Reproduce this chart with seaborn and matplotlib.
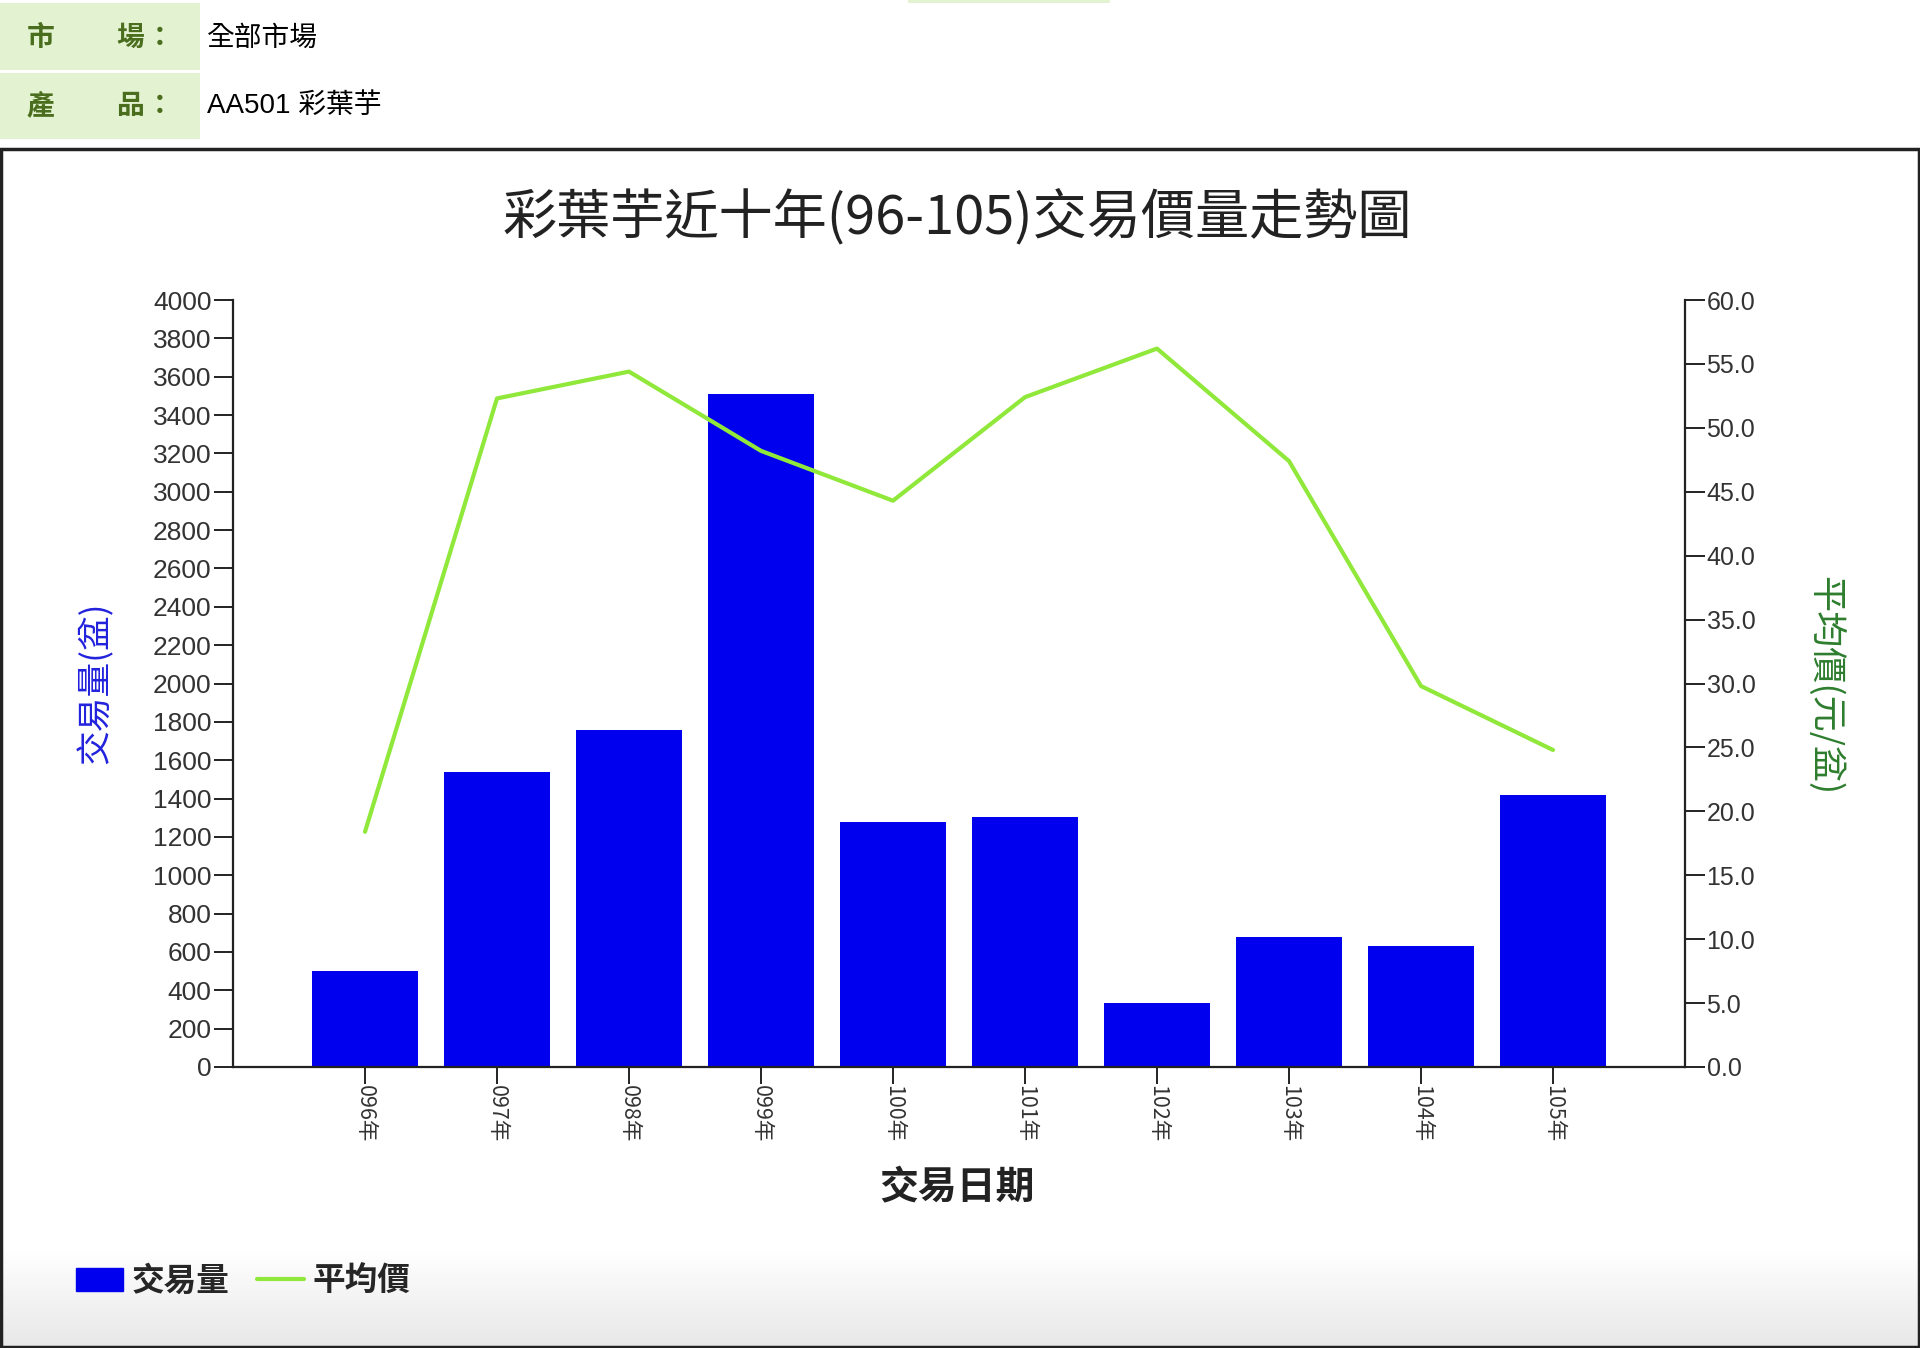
import numpy as np
import pandas as pd
import matplotlib
matplotlib.use("Agg")
import matplotlib.pyplot as plt
import seaborn as sns
from matplotlib.patches import Rectangle
from matplotlib.lines import Line2D

# ---------------- data ----------------
years = ["096年", "097年", "098年", "099年", "100年", "101年", "102年", "103年", "104年", "105年"]
volume = [500, 1540, 1758, 3510, 1280, 1302, 332, 676, 633, 1416]
price = [18.4, 52.3, 54.4, 48.2, 44.3, 52.4, 56.2, 47.4, 29.8, 24.8]
left_ticks = list(range(0, 4001, 200))
right_ticks = [0, 5, 10, 15, 20, 25, 30, 35, 40, 45, 50, 55, 60]

title = "彩葉芋近十年(96-105)交易價量走勢圖"
market_label = "全部市場"
product_label = "AA501 彩葉芋"

sns.set_theme(style="white")
plt.rcParams['font.family'] = ['Noto Sans CJK TC', 'DejaVu Sans']

W, H = 1920, 1348
fig = plt.figure(figsize=(W / 100, H / 100), dpi=100)
fig.patch.set_facecolor("white")

def fx(px):
    return px / W

def fy(py):
    return (H - py) / H

# ---------------- header ----------------
hdr = fig.add_axes([0, 0, 1, 1], zorder=-2)
hdr.set_xlim(0, W)
hdr.set_ylim(H, 0)
hdr.axis("off")
cell_green = "#e3f3d1"
hdr.add_patch(Rectangle((0, 3), 200, 67, color=cell_green, lw=0))
hdr.add_patch(Rectangle((0, 73), 200, 66, color=cell_green, lw=0))
hdr.add_patch(Rectangle((908, 0), 202, 3, color=cell_green, lw=0))

# frame area with subtle bottom gradient
n = 300
grad = np.ones((n, 1))
for i in range(n):
    t = i / (n - 1)
    if t > 0.92:
        grad[i, 0] = 1.0 - 0.09 * (t - 0.92) / 0.08
grad_rgb = np.repeat(grad[:, :, None], 3, axis=2)
hdr.imshow(grad_rgb, extent=(0, W, H, 148), aspect="auto", zorder=0, interpolation="bilinear")
hdr.set_xlim(0, W)
hdr.set_ylim(H, 0)
hdr.add_patch(Rectangle((1, 149), W - 2, H - 150, fill=False, ec="#222222", lw=2.5, zorder=2))

lab_color = "#4a6e1e"
fs_hdr = 20
fig.text(fx(27), fy(38), "市", fontsize=fs_hdr, color=lab_color, fontweight="bold", va="center", ha="left")
fig.text(fx(116), fy(38), "場", fontsize=fs_hdr, color=lab_color, fontweight="bold", va="center", ha="left")
fig.text(fx(146), fy(38), "：", fontsize=fs_hdr, color=lab_color, fontweight="bold", va="center", ha="left")
fig.text(fx(27), fy(106), "產", fontsize=fs_hdr, color=lab_color, fontweight="bold", va="center", ha="left")
fig.text(fx(116), fy(106), "品", fontsize=fs_hdr, color=lab_color, fontweight="bold", va="center", ha="left")
fig.text(fx(146), fy(106), "：", fontsize=fs_hdr, color=lab_color, fontweight="bold", va="center", ha="left")
fig.text(fx(207), fy(38), market_label, fontsize=fs_hdr, color="black", va="center", ha="left")
fig.text(fx(207), fy(106), product_label, fontsize=fs_hdr, color="black", va="center", ha="left",
         family=["Liberation Sans", "Noto Sans CJK TC"])

# ---------------- chart ----------------
ax_l, ax_r, ax_t, ax_b = 233, 1685, 300, 1067
ax = fig.add_axes([fx(ax_l), fy(ax_b), (ax_r - ax_l) / W, (ax_b - ax_t) / H])
ax.patch.set_alpha(0)

df = pd.DataFrame({"year": years, "volume": volume, "price": price})
sns.barplot(data=df, x="year", y="volume", color="#0000ee", saturation=1, width=0.8, ax=ax, zorder=2)
for p in ax.patches:
    p.set_edgecolor("none")

ax2 = ax.twinx()
df["pos"] = np.arange(len(years))
sns.lineplot(data=df, x="pos", y="price", color="#8fe83a", lw=3, ax=ax2, zorder=3)

ax.set_xlim(-1, len(years))
ax.set_ylim(0, 4000)
ax2.set_ylim(0, 60)
ax.set_yticks(left_ticks)
ax.set_yticklabels([str(v) for v in left_ticks])
ax2.set_yticks(right_ticks)
ax2.set_yticklabels([f"{v:.1f}" for v in right_ticks])
ax.set_xticks(range(len(years)))
ax.set_xticklabels(years, rotation=270, va="top", ha="center")
ax.set_xlabel("")
ax.set_ylabel("")
ax2.set_xlabel("")
ax2.set_ylabel("")

tick_color = "#333333"
for a in (ax, ax2):
    for s in a.spines.values():
        s.set_color("#222222")
        s.set_linewidth(1.6)
    a.spines["top"].set_visible(False)
ax.spines["right"].set_visible(False)
ax2.spines["left"].set_visible(False)
ax2.spines["bottom"].set_visible(False)

ax.tick_params(axis="y", which="both", left=True, direction="out", length=14, width=1.4,
               color="#222222", labelsize=19, labelcolor=tick_color, pad=1.5)
ax.tick_params(axis="x", bottom=True, direction="out", length=12, width=1.4,
               color="#222222", labelsize=15.5, labelcolor=tick_color, pad=1)
ax2.tick_params(axis="y", right=True, direction="out", length=14.5, width=1.4,
                color="#222222", labelsize=18, labelcolor=tick_color, pad=1)
for lab in ax.get_yticklabels() + ax2.get_yticklabels():
    lab.set_family(["Liberation Sans", "DejaVu Sans"])

# titles / labels
fig.text(fx(957), fy(218), title, fontsize=39, color="#222222", ha="center", va="center")
fig.text(fx(957), fy(1188), "交易日期", fontsize=28, color="#222222", fontweight="bold",
         ha="center", va="center")
fig.text(fx(95), fy(683), "交易量(盆)", fontsize=25, color="#2222dd", rotation=90,
         ha="center", va="center")
fig.text(fx(1825), fy(686), "平均價(元/盆)", fontsize=26, color="#2e7d2e", rotation=270,
         ha="center", va="center")

# legend
handles = [Rectangle((0, 0), 1, 1, color="#0000ee"),
           Line2D([0], [0], color="#8fe83a", lw=3)]
leg = fig.legend(handles, ["交易量", "平均價"], loc="center left",
                 bbox_to_anchor=(fx(76), fy(1281)), ncol=2, frameon=False,
                 prop={"size": 23.5, "weight": "bold"}, handlelength=1.45, handleheight=0.7,
                 handletextpad=0.25, columnspacing=0.85, borderpad=0, borderaxespad=0)

fig.savefig("out.png", dpi=100, facecolor="white")
